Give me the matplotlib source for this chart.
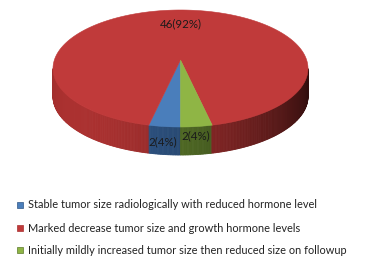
import numpy as np
import matplotlib
matplotlib.use("Agg")
import matplotlib.pyplot as plt
from matplotlib.patches import Polygon, Rectangle

# =================================================
# Data
# =================================================
labels = [
    "Stable tumor size radiologically with reduced hormone level",
    "Marked decrease tumor size and growth hormone levels",
    "Initially mildly increased tumor size then reduced size on followup",
]
counts = [2, 46, 2]
pct_text = ["2(4%)", "46(92%)", "2(4%)"]
top_colors = ["#4a7ebb", "#c03a3a", "#8fb545"]
side_colors = ["#2f5687", "#a8302f", "#5c7a2a"]

# geometry of the fake 3d pie (pixels)
cx, cy, rx, ry = 180.5, 68.5, 127.5, 58.5
apex_y = 60.0
depth = 28.0
start = 270.0  # slices go clockwise from the bottom

plt.rcParams['font.family'] = ['Lato', 'DejaVu Sans']

fig = plt.figure(figsize=(3.69, 2.73), dpi=100)
ax = fig.add_axes([0, 0, 1, 1])
ax.set_xlim(0, 369)
ax.set_ylim(273, 0)
ax.axis("off")

total = float(sum(counts))
bounds = [start]
for c in counts:
    bounds.append(bounds[-1] - 360.0 * c / total)


def owner(t):
    # which slice holds angle t
    for k in range(len(counts)):
        hi, lo = bounds[k], bounds[k + 1]
        tt = t
        while tt > hi:
            tt -= 360
        while tt < lo:
            tt += 360
        if lo <= tt <= hi:
            return k
    return 1


def shade(hexcol, f):
    rgb = np.array(matplotlib.colors.to_rgb(hexcol))
    return tuple(np.clip(rgb * f, 0, 1))


def pt(t):
    r = np.radians(t)
    return cx + rx * np.cos(r), cy - ry * np.sin(r)


# -----------------------------
# side wall (front half only)
# -----------------------------
ts = np.linspace(180, 360, 241)
for a, b in zip(ts[:-1], ts[1:]):
    k = owner(0.5 * (a + b))
    f = 0.62 + 0.4 * np.cos(np.radians(0.5 * (a + b) - 215))
    f = min(f, 1.05)
    col = shade(side_colors[k], f)
    x0, y0 = pt(a)
    x1, y1 = pt(b)
    poly = Polygon([(x0, y0), (x1, y1), (x1, y1 + depth), (x0, y0 + depth)],
                   closed=True, facecolor=col, edgecolor=col, linewidth=0.6)
    ax.add_patch(poly)

# -----------------------------
# top face
# -----------------------------
for k in range(len(counts)):
    hi, lo = bounds[k], bounds[k + 1]
    arc = np.linspace(hi, lo, max(int(abs(hi - lo)), 4))
    verts = [(cx, apex_y)] + [pt(t) for t in arc]
    ax.add_patch(Polygon(verts, closed=True, facecolor=top_colors[k],
                         edgecolor=top_colors[k], linewidth=0.4))

# -----------------------------
# data labels
# -----------------------------
ax.text(181, 24, pct_text[1], ha="center", va="center", fontsize=8.3, color="#1a1a1a")
ax.text(163, 142, pct_text[0], ha="center", va="center", fontsize=8.3, color="#1a1a1a")
ax.text(196, 136, pct_text[2], ha="center", va="center", fontsize=8.3, color="#1a1a1a")

# -----------------------------
# legend
# -----------------------------
leg_y = [205, 228, 250]
for k in range(len(labels)):
    ax.add_patch(Rectangle((17, leg_y[k] - 3), 6, 6, facecolor=top_colors[k],
                           edgecolor=side_colors[k], linewidth=0.5))
    ax.text(28, leg_y[k], labels[k], ha="left", va="center", fontsize=7.9, color="#222222")

fig.savefig("out.png", dpi=100)
